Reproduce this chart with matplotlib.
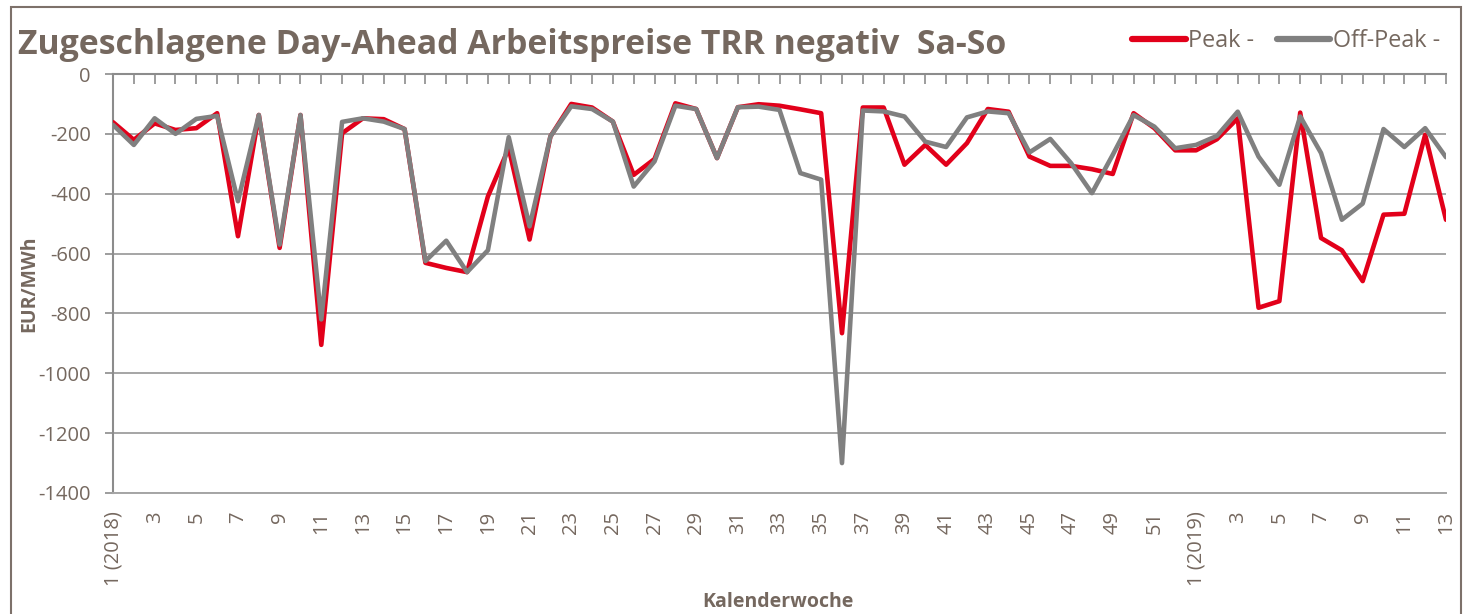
import matplotlib
matplotlib.use("Agg")
import matplotlib.pyplot as plt
from matplotlib.patches import Rectangle

# ---- data ----
weeks_2018 = list(range(1, 53))
weeks_2019 = list(range(1, 14))
week_labels = [("1 (2018)" if w == 1 else str(w)) for w in weeks_2018] + \
              [("1 (2019)" if w == 1 else str(w)) for w in weeks_2019]

peak = [-161, -220, -165, -187, -181, -131, -542, -137, -581, -137,
        -905, -198, -148, -151, -184, -631, -648, -662, -409, -248,
        -553, -209, -100, -112, -159, -337, -284, -98, -117, -281,
        -111, -101, -106, -118, -131, -866, -112, -112, -303, -237,
        -303, -231, -117, -126, -276, -307, -307, -318, -334, -131,
        -181, -255, -255, -218, -148, -781, -759, -129, -548, -589,
        -692, -470, -467, -203, -487]

offpeak = [-170, -237, -148, -200, -150, -140, -425, -137, -570, -137,
           -820, -160, -148, -159, -184, -625, -557, -662, -589, -211,
           -509, -209, -108, -117, -159, -376, -292, -106, -117, -281,
           -111, -109, -120, -331, -353, -1300, -122, -125, -142, -226,
           -244, -145, -125, -131, -262, -217, -298, -398, -270, -137,
           -176, -248, -237, -207, -126, -276, -370, -142, -264, -487,
           -433, -184, -244, -181, -278]

yticks = [0, -200, -400, -600, -800, -1000, -1200, -1400]

# ---- style ----
TXT = "#75685f"
GRID = "#a5a5a5"
AX = "#8c8c8c"
RED = "#e2001a"
GRAY = "#808080"
FONT = "Open Sans"

W, H = 1467, 614
fig = plt.figure(figsize=(W / 100, H / 100), dpi=100)
ax = fig.add_axes([113 / W, 1 - 493 / H, (1446 - 113) / W, (493 - 74) / H])

x = list(range(len(week_labels)))
ax.plot(x, peak, color=RED, lw=3.3, solid_joinstyle="round", solid_capstyle="round",
        label="Peak -", zorder=3)
ax.plot(x, offpeak, color=GRAY, lw=3.3, solid_joinstyle="round", solid_capstyle="round",
        label="Off-Peak -", zorder=4)

ax.set_xlim(0, len(x) - 1)
ax.set_ylim(-1400, 0)
ax.set_yticks(yticks)
ax.set_yticklabels([str(v) for v in yticks], fontfamily=FONT, fontsize=14.5, color=TXT)
ax.grid(axis="y", color=GRID, lw=1.4)
ax.set_axisbelow(True)

ax.set_xticks(x)
ax.set_xticklabels([lab if i % 2 == 0 else "" for i, lab in enumerate(week_labels)],
                   rotation=90, fontfamily=FONT, fontsize=14.5, color=TXT)
ax.tick_params(axis="x", top=True, bottom=False, direction="in", length=7, width=1.2,
               color=AX, labelbottom=True, labeltop=False, pad=13)
ax.tick_params(axis="y", direction="out", length=6, width=1.2, color=AX, pad=10)

ax.spines["right"].set_visible(False)
ax.spines["top"].set_color(AX)
ax.spines["top"].set_linewidth(1.5)
ax.spines["left"].set_color(AX)
ax.spines["left"].set_linewidth(1.5)
ax.spines["bottom"].set_color(GRID)
ax.spines["bottom"].set_linewidth(1.4)

ax.set_ylabel("EUR/MWh", fontfamily=FONT, fontweight="bold", fontsize=14, color=TXT)
ax.yaxis.set_label_coords((39 - 113) / (1446 - 113), 0.5)
fig.text(778 / W, 1 - 602 / H, "Kalenderwoche", fontfamily=FONT, fontweight="bold",
         fontsize=14, color=TXT, ha="center", va="center")

fig.text(18 / W, 1 - 54 / H, "Zugeschlagene Day-Ahead Arbeitspreise TRR negativ  Sa-So",
         fontfamily=FONT, fontweight="bold", fontsize=24.4, color=TXT, va="baseline")

leg = ax.legend(loc="center left", bbox_to_anchor=(1132 / W, 1 - 41 / H),
                bbox_transform=fig.transFigure, ncol=2, frameon=False,
                prop={"family": FONT, "size": 16.8}, handlelength=2.3, handletextpad=0.12,
                columnspacing=0.95, borderaxespad=0, borderpad=0)
for t in leg.get_texts():
    t.set_color(TXT)
for lh in leg.get_lines():
    lh.set_linewidth(4.5)

fig.patches.append(Rectangle((11 / W, -0.05), (1461 - 11) / W, 0.05 + 1 - 7 / H,
                             transform=fig.transFigure, fill=False,
                             edgecolor="#7d716a", lw=1.5))

fig.savefig("out.png", dpi=100, facecolor="white")
